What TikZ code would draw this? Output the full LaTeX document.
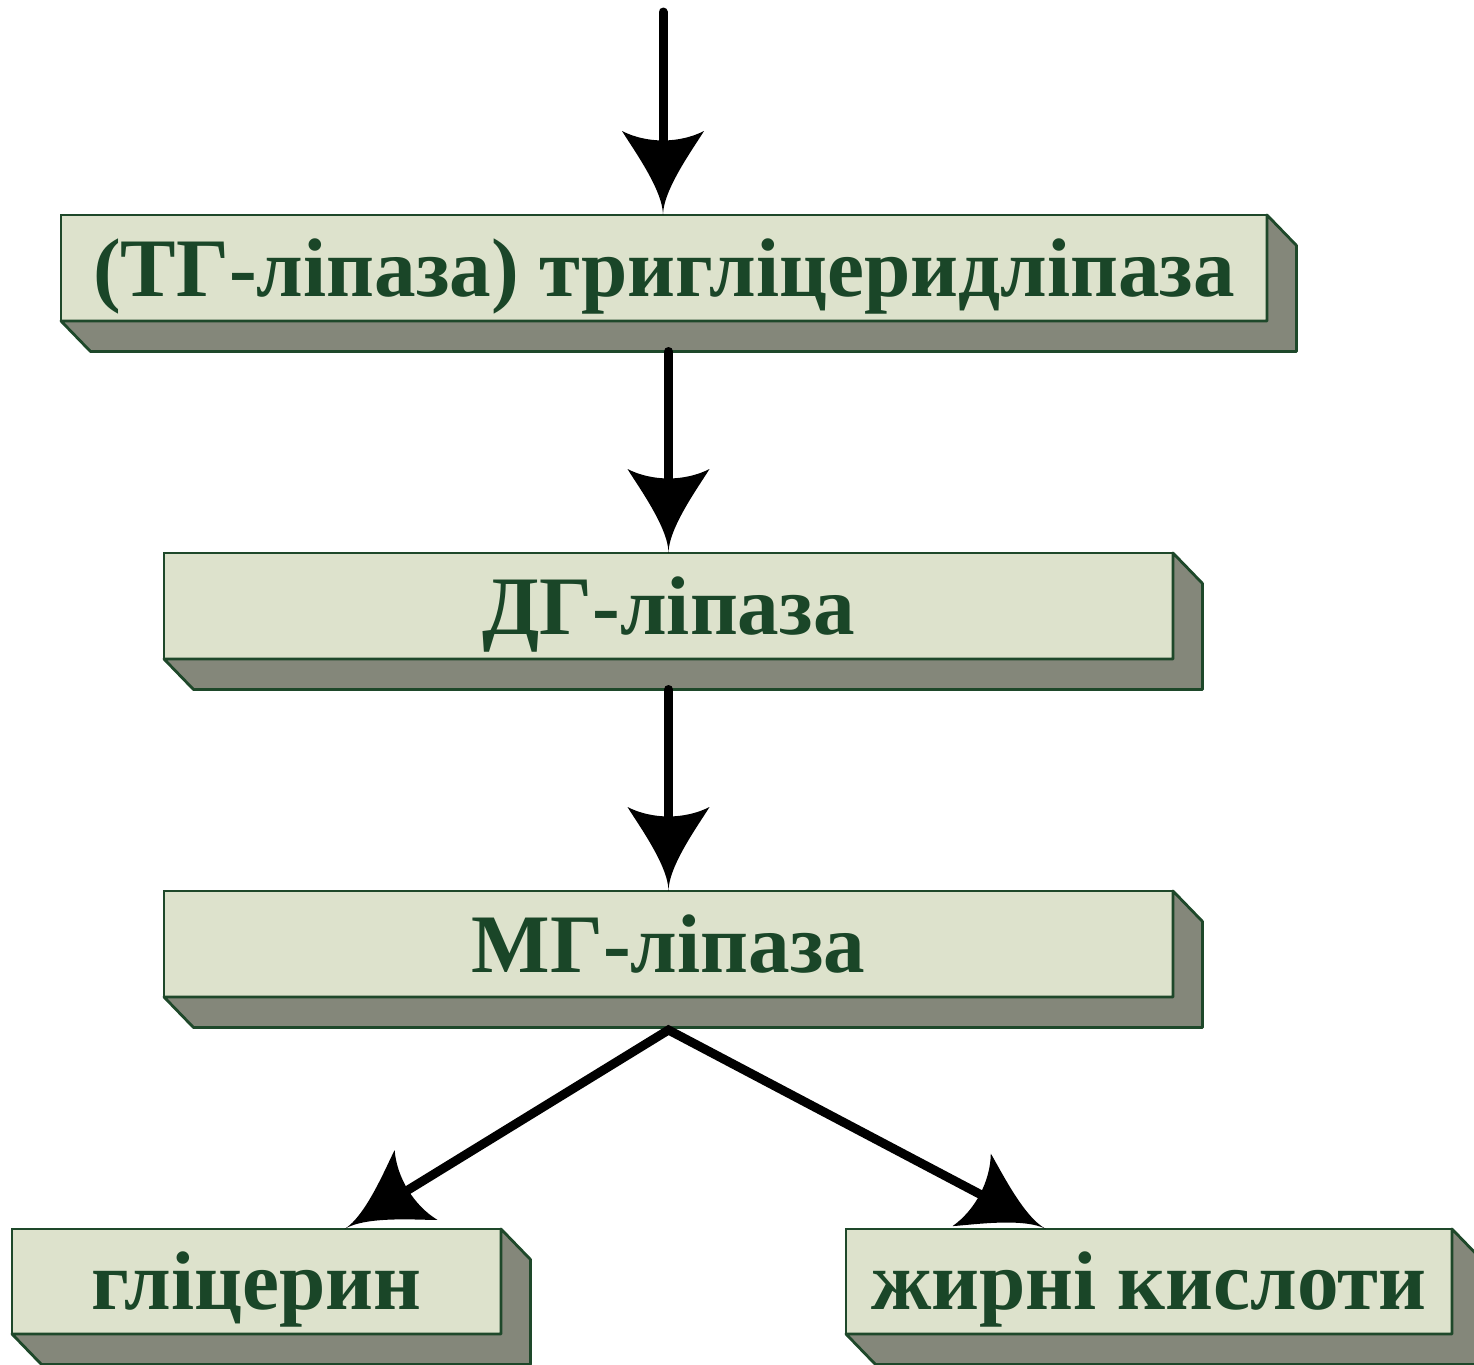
\documentclass[tikz,border=0pt]{standalone}
\usepackage{fontspec}
\setmainfont{Liberation Serif}
\usetikzlibrary{arrows.meta,calc}

\definecolor{slabfront}{RGB}{221,226,204}
\definecolor{slabside}{RGB}{132,135,122}
\definecolor{slabedge}{RGB}{30,72,42}
\definecolor{slabtext}{RGB}{26,70,40}

% spear-shaped arrow head with concave flanks and a hollowed back
\pgfdeclarearrow{
  name = Spear,
  parameters = {\the\pgfarrowlength,\the\pgfarrowwidth},
  setup code = {
    \pgfarrowssettipend{0pt}
    \pgfarrowssetlineend{-.7\pgfarrowlength}
    \pgfarrowssetbackend{-\pgfarrowlength}
    \pgfarrowshullpoint{0pt}{0pt}
    \pgfarrowsupperhullpoint{-\pgfarrowlength}{.5\pgfarrowwidth}
    \pgfarrowssavethe\pgfarrowlength
    \pgfarrowssavethe\pgfarrowwidth
  },
  drawing code = {
    \pgfpathmoveto{\pgfpointorigin}
    \pgfpathcurveto{\pgfpoint{-.3\pgfarrowlength}{0pt}}
                   {\pgfpoint{-.8\pgfarrowlength}{.375\pgfarrowwidth}}
                   {\pgfpoint{-\pgfarrowlength}{.5\pgfarrowwidth}}
    \pgfpathcurveto{\pgfpoint{-.85\pgfarrowlength}{.2\pgfarrowwidth}}
                   {\pgfpoint{-.85\pgfarrowlength}{-.2\pgfarrowwidth}}
                   {\pgfpoint{-\pgfarrowlength}{-.5\pgfarrowwidth}}
    \pgfpathcurveto{\pgfpoint{-.8\pgfarrowlength}{-.375\pgfarrowwidth}}
                   {\pgfpoint{-.3\pgfarrowlength}{0pt}}
                   {\pgfpointorigin}
    \pgfpathclose
    \pgfusepathqfill
  },
  defaults = {length = 42pt, width = 41pt}
}

\tikzset{
  slab/.style={draw=slabedge, fill=slabfront, line width=1.4pt,
    inner sep=0pt, outer sep=0pt, text=slabtext,
    font=\fontsize{41.6}{48}\selectfont\bfseries,
    text height=28pt, text depth=0pt},
  slabshade/.style={draw=slabedge, fill=slabside, line width=1.4pt, line join=round},
  flow/.style={line width=4.5pt, -Spear, line cap=round},
}

% extruded right and bottom faces of a slab
\newcommand\slabdepth[1]{%
  \filldraw[slabshade] (#1.north east) -- ++(29.5,30.5)
    -- ($(#1.south east)+(29.5,30.5)$) -- ($(#1.south west)+(29.5,30.5)$)
    -- (#1.south west) -- (#1.south east) -- cycle;
  \coordinate (#1-base) at ($(#1.south)+(0,30.5)$);
}

\begin{document}
\begin{tikzpicture}[x=0.5pt, y=-0.5pt]
  \useasboundingbox (0,0) rectangle (1474,1365);

  \node[slab, minimum width=603pt, minimum height=53pt] (tg) at (664,268)
    {(ТГ-ліпаза) тригліцеридліпаза};
  \slabdepth{tg}
  \node[slab, minimum width=504.5pt, minimum height=53pt] (dg) at (668.5,606)
    {ДГ-ліпаза};
  \slabdepth{dg}
  \node[slab, minimum width=504.5pt, minimum height=53pt] (mg) at (668.5,944)
    {МГ-ліпаза};
  \slabdepth{mg}
  \node[slab, minimum width=244.5pt, minimum height=52.5pt] (gl) at (256.5,1281.5)
    {гліцерин};
  \slabdepth{gl}
  \node[slab, minimum width=303pt, minimum height=52.5pt] (fa) at (1149,1281.5)
    {жирні кислоти};
  \slabdepth{fa}

  \coordinate (src) at (663,12);
  \coordinate (split) at ($(mg.south)+(0,33)$);
  \coordinate (gl-in) at ($(gl.north west)!0.68!(gl.north east)$);
  \coordinate (fa-in) at ($(fa.north west)!0.33!(fa.north east)$);

  \draw[flow] (src) -- (src |- tg.north);
  \draw[flow] (dg.north |- tg-base) -- (dg.north);
  \draw[flow] (mg.north |- dg-base) -- (mg.north);
  \draw[flow, Spear-Spear, line join=miter] (gl-in) -- (split) -- (fa-in);
\end{tikzpicture}
\end{document}
